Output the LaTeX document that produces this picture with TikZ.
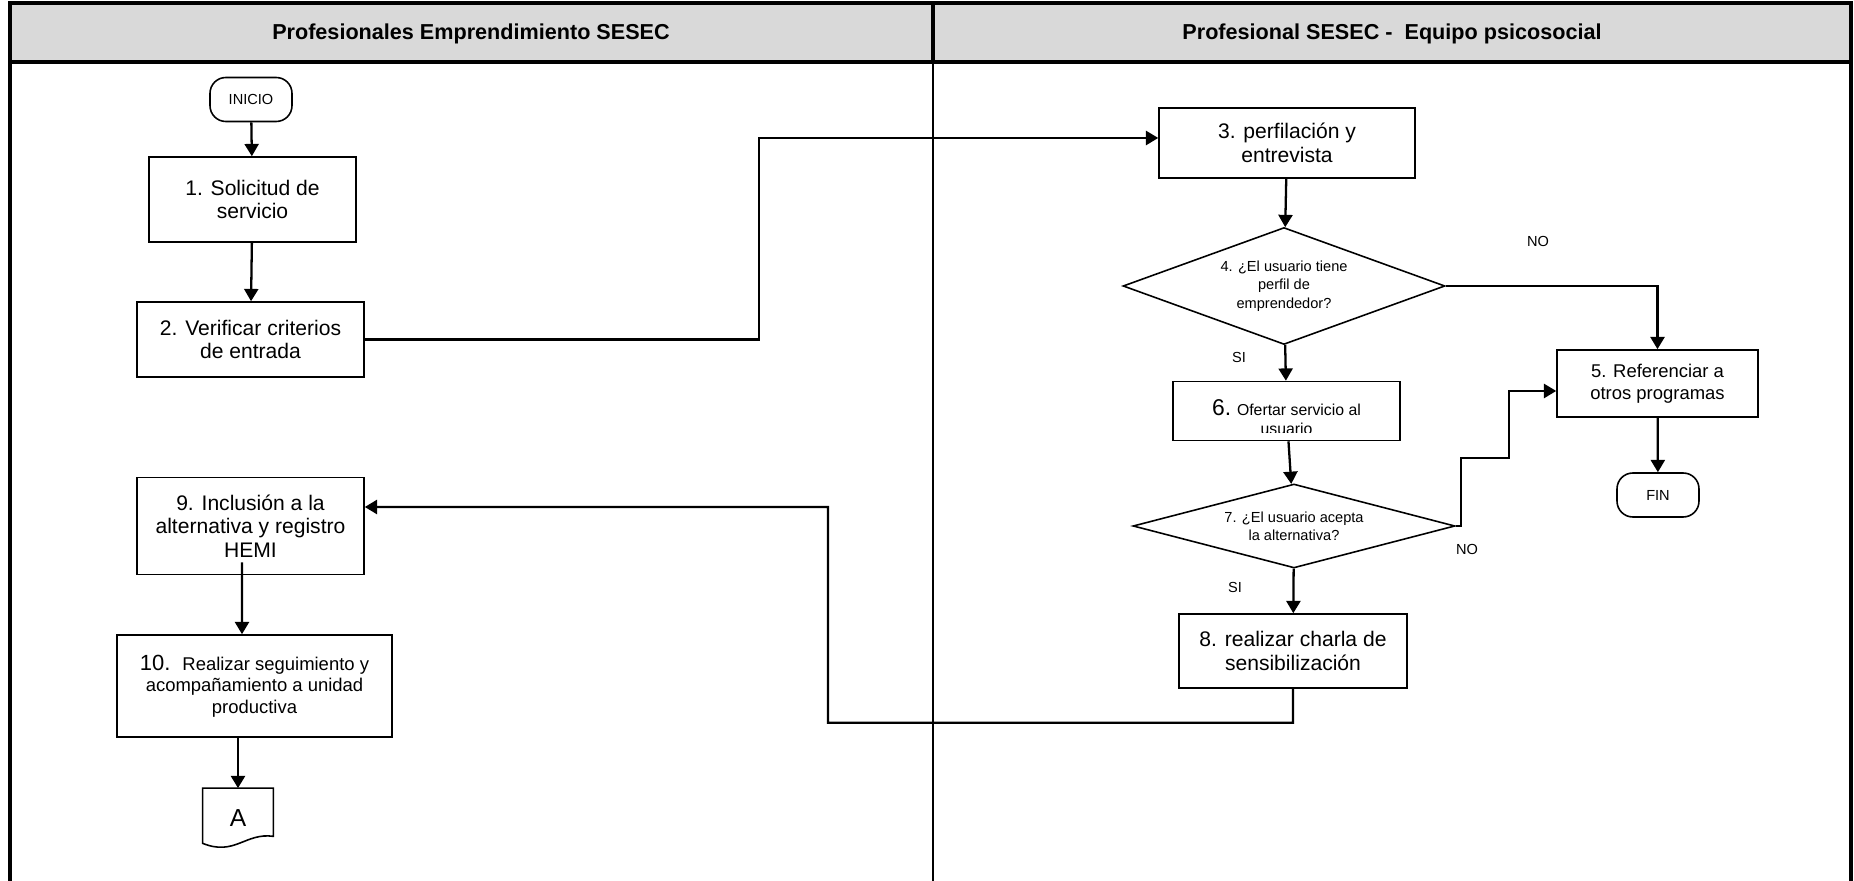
\documentclass[tikz,border=0pt]{standalone}
\usepackage{fontspec}
\setmainfont{Liberation Sans}
\usetikzlibrary{shapes.geometric,arrows.meta}

\begin{document}
\begin{tikzpicture}[x=0.02cm,y=-0.02cm,
  box/.style={draw,line width=0.9pt,align=center,inner sep=2pt,font=\fontsize{12}{13.5}\selectfont},
  decision/.style={draw,diamond,line width=0.9pt,align=center,inner sep=0pt,font=\fontsize{8.3}{10.4}\selectfont},
  terminal/.style={draw,line width=0.9pt,rounded corners=9pt,minimum width=1.64cm,minimum height=0.88cm,font=\fontsize{8.3}{10}\selectfont},
  lane/.style={font=\bfseries\fontsize{12.3}{14}\selectfont},
  arr/.style={line width=1.3pt,-{Triangle[length=7pt,width=8pt]}},
  lbl/.style={font=\fontsize{8.3}{10}\selectfont}]
  \useasboundingbox (0,0) rectangle (1854,881);
  \fill[black!15] (10,3) rectangle (1851,62);
  \draw[line width=1.8pt] (10,881) -- (10,3) -- (1851,3) -- (1851,881) (10,62) -- (1851,62) (933,3) -- (933,62);
  \draw[line width=1.1pt] (933,62) -- (933,881);
  \node[lane] (lane1) at (471,34) {Profesionales Emprendimiento SESEC};
  \node[lane] (lane2) at (1392,34) {Profesional SESEC -~ Equipo psicosocial};

  \node[terminal] (inicio) at (251,99.5) {INICIO};
  \node[box,minimum width=4.14cm,minimum height=1.7cm] (s1) at (252.5,199.5) {1. Solicitud de\\servicio};
  \node[box,minimum width=4.54cm,minimum height=1.5cm] (s2) at (250.5,339.5) {2. Verificar criterios\\de entrada};
  \node[box,minimum width=4.54cm,minimum height=1.94cm] (s9) at (250.5,526) {9. Inclusión a la\\alternativa y registro\\HEMI};
  \node[box,minimum width=5.5cm,minimum height=2.04cm,font=\fontsize{10.5}{12.3}\selectfont] (s10) at (254.5,686)
    {{\fontsize{12.5}{12.3}\selectfont 10.}~ Realizar seguimiento y\\acompañamiento a unidad\\productiva};
  \node[minimum width=1.4cm,minimum height=1.18cm,inner sep=0pt,font=\fontsize{14}{16}\selectfont] (docA) at (238,818) {A};
  \draw[line width=0.9pt] (docA.north west) -- (docA.north east) -- ([yshift=0.23cm]docA.south east)
    .. controls +(-28,-4) and +(32,13) .. ([yshift=0.09cm]docA.south west) -- cycle;

  \node[box,minimum width=5.12cm,minimum height=1.4cm] (s3) at (1287,143) {3. perfilación y\\entrevista};
  \node[decision,minimum width=6.44cm,minimum height=2.34cm,aspect=2.75] (d4) at (1284,286) {4. ¿El usuario tiene\\perfil de\\emprendedor?};
  \node[box,minimum width=4.54cm,minimum height=1.18cm] (s6) at (1286.5,411) {};
  \begin{scope}
    \clip (s6.north west) rectangle ([yshift=0.18cm]s6.south east);
    \node[align=center,font=\fontsize{9}{11}\selectfont] (s6t) at (1286.5,417) {{\fontsize{13}{11}\selectfont 6.} Ofertar servicio al\\usuario};
  \end{scope}
  \node[decision,minimum width=6.44cm,minimum height=1.68cm,aspect=3.8] (d7) at (1294,526) {7. ¿El usuario acepta\\la alternativa?};
  \node[box,minimum width=4.56cm,minimum height=1.48cm] (s8) at (1293,651) {8. realizar charla de\\sensibilización};
  \node[box,minimum width=4.02cm,minimum height=1.34cm,font=\fontsize{10.5}{12.3}\selectfont] (s5) at (1657.5,383.5) {5. Referenciar a\\otros programas};
  \node[terminal] (fin) at (1658,495) {FIN};

  \node[lbl] (no4) at (1538,241) {NO};
  \node[lbl] (si4) at (1239,357) {SI};
  \node[lbl] (no7) at (1467,549) {NO};
  \node[lbl] (si7) at (1235,587) {SI};

  \draw[arr] (inicio) -- (s1);
  \draw[arr] (s1) -- (s2);
  \draw[arr] (s2.east) -- ++(394,0) |- ([yshift=0.1cm]s3.west);
  \draw[arr] (s3) -- (d4);
  \draw[arr] (d4.east) -| (s5.north);
  \draw[arr] (d4) -- (s6);
  \draw[arr] (s6) -- (d7);
  \draw[arr] (d7.east) -- ++(5,0) -- ++(0,-68) -- ++(48,0) |- ([yshift=-0.15cm]s5.west);
  \draw[arr] (s5) -- (fin);
  \draw[arr] (d7) -- (s8);
  \draw[arr] (s8.south) -- ++(0,34) -| (828,507) -- ([yshift=0.38cm]s9.east);
  \draw[arr] ([xshift=-0.17cm,yshift=0.26cm]s9.south) -- ([xshift=-0.25cm]s10.north);
  \draw[arr] (s10.south -| docA.north) -- (docA.north);
\end{tikzpicture}
\end{document}
